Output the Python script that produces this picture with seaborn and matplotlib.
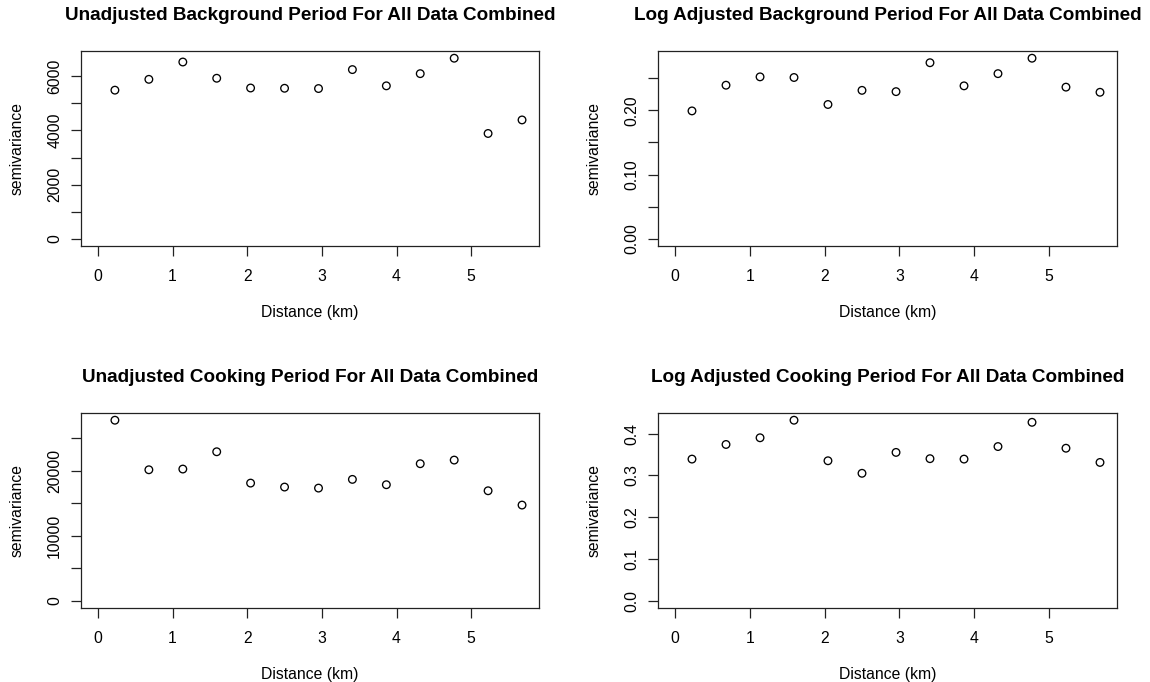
import matplotlib
matplotlib.use("Agg")
import matplotlib.pyplot as plt
import seaborn as sns

# ---- data ----
distance = [0.227, 0.682, 1.137, 1.591, 2.045, 2.500, 2.955, 3.409, 3.864, 4.318, 4.773, 5.227, 5.682]

bg_unadjusted = [5490, 5890, 6530, 5930, 5570, 5560, 5550, 6250, 5650, 6100, 6670, 3890, 4390]
bg_log = [0.199, 0.239, 0.252, 0.251, 0.209, 0.231, 0.229, 0.274, 0.238, 0.257, 0.281, 0.236, 0.228]
ck_unadjusted = [27770, 20150, 20260, 22920, 18100, 17490, 17330, 18670, 17850, 21080, 21640, 16920, 14720]
ck_log = [0.339, 0.374, 0.390, 0.432, 0.335, 0.305, 0.355, 0.340, 0.339, 0.369, 0.427, 0.365, 0.331]

titles = [
    "Unadjusted Background Period For All Data Combined",
    "Log Adjusted Background Period For All Data Combined",
    "Unadjusted Cooking Period For All Data Combined",
    "Log Adjusted Cooking Period For All Data Combined",
]
series = [bg_unadjusted, bg_log, ck_unadjusted, ck_log]
y_ticks = [
    [0, 1000, 2000, 3000, 4000, 5000, 6000],
    [0, 0.05, 0.10, 0.15, 0.20, 0.25],
    [0, 5000, 10000, 15000, 20000, 25000],
    [0.0, 0.1, 0.2, 0.3, 0.4],
]
y_labels = [
    ["0", "", "2000", "", "4000", "", "6000"],
    ["0.00", "", "0.10", "", "0.20", ""],
    ["0", "", "10000", "", "20000", ""],
    ["0.0", "0.1", "0.2", "0.3", "0.4"],
]
x_ticks = [0, 1, 2, 3, 4, 5]

sns.set_theme(style="white")
plt.rcParams["font.family"] = ["Liberation Sans", "DejaVu Sans"]
plt.rcParams["text.color"] = "black"
plt.rcParams["axes.labelcolor"] = "black"

fig = plt.figure(figsize=(11.5, 6.82), dpi=100)

# axes boxes in pixels: left, top, right, bottom (R par(mfrow=c(2,2)) look)
boxes = [(81, 51, 539, 246), (658, 51, 1117, 246),
         (81, 413, 539, 608), (658, 413, 1117, 608)]
W, H = 1150, 682
base = 11.3


def r_range(lo, hi):
    # R style 4% padding
    d = (hi - lo) * 0.04
    return lo - d, hi + d


for i in range(4):
    l, t, r, b = boxes[i]
    ax = fig.add_axes([l / W, 1 - b / H, (r - l) / W, (b - t) / H])
    sns.scatterplot(x=distance, y=series[i], ax=ax, marker="o", s=30,
                    facecolor="none", edgecolor="black", linewidth=0.95)
    ax.set_xlim(*r_range(0, max(distance)))
    ax.set_ylim(*r_range(0, max(series[i])))
    ax.set_xticks(x_ticks)
    ax.set_xticklabels([str(v) for v in x_ticks])
    ax.set_yticks(y_ticks[i])
    ax.set_yticklabels(y_labels[i], rotation=90, va="center")
    ax.tick_params(axis="both", direction="out", length=7, width=0.9,
                   color="#222222", labelcolor="black", labelsize=base,
                   left=True, bottom=True)
    ax.tick_params(axis="x", pad=9.5)
    ax.tick_params(axis="y", pad=6.5)
    for sp in ax.spines.values():
        sp.set_color("#222222")
        sp.set_linewidth(0.9)
    ax.set_title(titles[i], fontsize=base * 1.2, fontweight="bold", pad=22)
    ax.set_xlabel("Distance (km)", fontsize=base, labelpad=15)
    ax.set_ylabel("semivariance", fontsize=base, labelpad=16)

fig.savefig("out.png", dpi=100)
